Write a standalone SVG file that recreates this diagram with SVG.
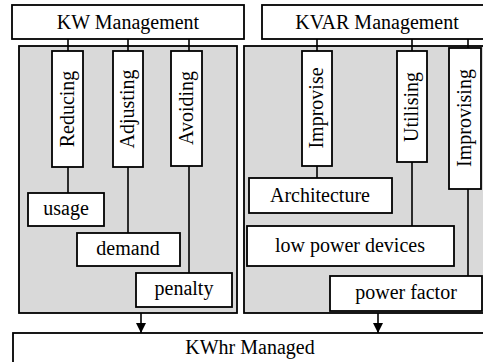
<svg xmlns="http://www.w3.org/2000/svg" width="483" height="362" viewBox="0 0 483 362">
<defs>
<style>
.box{fill:#fff;stroke:#000;stroke-width:1.8}
.panel{fill:#d9d9d9;stroke:#000;stroke-width:1.8}
text{font-family:'Liberation Serif','Times New Roman',Times,serif;font-size:20px;fill:#000;text-anchor:middle}
.c{stroke:#000;stroke-width:1.6;fill:none}
</style>
<marker id="ah" markerWidth="10" markerHeight="10" refX="10" refY="5" orient="auto" markerUnits="userSpaceOnUse">
<path d="M0,0 L10,5 L0,10 z" fill="#000"/>
</marker>
</defs>
<rect x="0" y="0" width="483" height="362" fill="#fff"/>
<g id="panel-kw"><rect class="panel" x="19" y="46" width="218" height="267"/></g>
<g id="panel-kvar"><rect class="panel" x="244" y="46" width="250" height="267"/></g>
<g id="connectors">
<line class="c" x1="68" y1="39" x2="68" y2="51"/>
<line class="c" x1="128" y1="39" x2="128" y2="51"/>
<line class="c" x1="189" y1="39" x2="189" y2="51"/>
<line class="c" x1="317" y1="39" x2="317" y2="51"/>
<line class="c" x1="412" y1="39" x2="412" y2="51"/>
<line class="c" x1="468" y1="39" x2="468" y2="48"/>
<line class="c" x1="68" y1="167" x2="68" y2="193"/>
<line class="c" x1="128" y1="167" x2="128" y2="233"/>
<line class="c" x1="189" y1="166" x2="189" y2="273"/>
<line class="c" x1="317" y1="166" x2="317" y2="178"/>
<line class="c" x1="412" y1="162" x2="412" y2="226"/>
<line class="c" x1="468" y1="189" x2="468" y2="276"/>
<line class="c" x1="141" y1="313" x2="141" y2="333" marker-end="url(#ah)"/>
<line class="c" x1="378" y1="313" x2="378" y2="333" marker-end="url(#ah)"/>
</g>
<g id="kw-management"><rect class="box" x="12" y="5" width="232" height="34"/><text x="128" y="29">KW Management</text></g>
<g id="kvar-management"><rect class="box" x="262" y="5" width="230" height="34"/><text x="377" y="29">KVAR Management</text></g>
<g id="reducing"><rect class="box" x="52" y="51" width="31" height="116"/><text transform="translate(74,109) rotate(-90)">Reducing</text></g>
<g id="adjusting"><rect class="box" x="113" y="51" width="30" height="116"/><text transform="translate(134,109) rotate(-90)">Adjusting</text></g>
<g id="avoiding"><rect class="box" x="171" y="51" width="31" height="115"/><text transform="translate(193,108) rotate(-90)">Avoiding</text></g>
<g id="improvise"><rect class="box" x="302" y="51" width="30" height="115"/><text transform="translate(323,108) rotate(-90)">Improvise</text></g>
<g id="utilising"><rect class="box" x="397" y="51" width="30" height="111"/><text transform="translate(418,107) rotate(-90)">Utilising</text></g>
<g id="improvising"><rect class="box" x="449" y="48" width="32" height="141"/><text transform="translate(471,118) rotate(-90)">Improvising</text></g>
<g id="usage"><rect class="box" x="28" y="193" width="76" height="33"/><text x="66" y="215">usage</text></g>
<g id="demand"><rect class="box" x="77" y="233" width="103" height="33"/><text x="128" y="255">demand</text></g>
<g id="penalty"><rect class="box" x="136" y="273" width="96" height="34"/><text x="184" y="295">penalty</text></g>
<g id="architecture"><rect class="box" x="249" y="178" width="143" height="35"/><text x="320" y="202">Architecture</text></g>
<g id="low-power-devices"><rect class="box" x="247" y="226" width="207" height="40"/><text x="350" y="252">low power devices</text></g>
<g id="power-factor"><rect class="box" x="330" y="276" width="152" height="35"/><text x="406" y="299">power factor</text></g>
<g id="kwhr-managed"><rect class="box" x="13" y="333" width="480" height="40"/><text x="250" y="354">KWhr Managed</text></g>
</svg>
